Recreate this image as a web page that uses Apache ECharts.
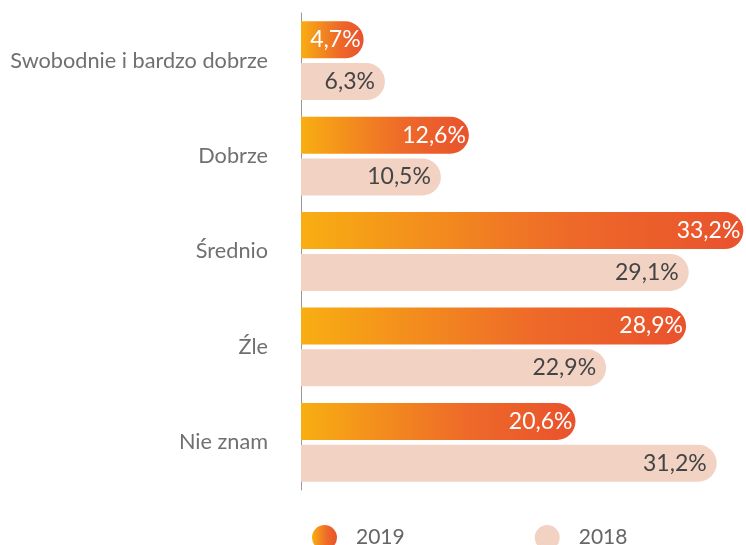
<!DOCTYPE html>
<html>
  <head>
    <meta charset="utf-8">
    <title>echarts</title>
    <script src="https://cdn.jsdelivr.net/npm/echarts@6/dist/echarts.min.js"></script>
  </head>
  <style>
    html,body {
      width: 100%;
      height: 100%;
      margin: 0;
      padding: 0;
      background: #fff;
    }
    #chart {
      width: 746px;
      height: 545px;
    }
  </style>
  <body>
    <div id="chart"></div>
  </body>
  <script>
    var categories = ['Swobodnie i bardzo dobrze', 'Dobrze', 'Średnio', 'Źle', 'Nie znam'];
    var data2019 = [4.7, 12.6, 33.2, 28.9, 20.6];
    var data2018 = [6.3, 10.5, 29.1, 22.9, 31.2];

    function fmt(p) {
      return String(p.value).replace('.', ',') + '%';
    }

    var grad = new echarts.graphic.LinearGradient(0, 0, 1, 0, [
      {offset: 0, color: '#F8AE12'},
      {offset: 0.6, color: '#EE6A29'},
      {offset: 1, color: '#E9522D'}
    ]);

    var option = {
      textStyle: {fontFamily: 'Lato'},
      grid: {left: 301, right: 0, top: 13, bottom: 55},
      legend: {
        data: [
          {name: '2019', itemStyle: {color: grad}},
          {name: '2018'}
        ],
        bottom: -10,
        left: 307,
        itemGap: 130,
        icon: 'circle',
        itemWidth: 25,
        itemHeight: 25,
        textStyle: {color: '#666', fontSize: 21, fontFamily: 'Lato', padding: [0, 0, 0, 14]}
      },
      xAxis: {
        type: 'value',
        min: 0,
        max: 33.4,
        show: false
      },
      yAxis: {
        type: 'category',
        data: categories,
        inverse: true,
        axisLine: {lineStyle: {color: '#999', width: 1}},
        axisTick: {show: false},
        axisLabel: {color: '#707070', fontSize: 21.7, margin: 33, fontFamily: 'Lato'}
      },
      series: [{
        name: '2019',
        type: 'bar',
        data: data2019,
        barWidth: 37,
        barGap: '13%',
        itemStyle: {color: grad, borderRadius: [0, 19, 19, 0]},
        label: {
          show: true,
          position: 'insideRight',
          color: '#fff',
          fontSize: 23,
          distance: 3,
          formatter: fmt
        }
      }, {
        name: '2018',
        type: 'bar',
        data: data2018,
        barWidth: 37,
        itemStyle: {color: '#F1D2C3', borderRadius: [0, 19, 19, 0]},
        label: {
          show: true,
          position: 'insideRight',
          color: '#444',
          fontSize: 23,
          distance: 10,
          formatter: fmt
        }
      }]
    };

    var chart = echarts.init(document.getElementById('chart'));
    chart.setOption(option);
  </script>
</html>
